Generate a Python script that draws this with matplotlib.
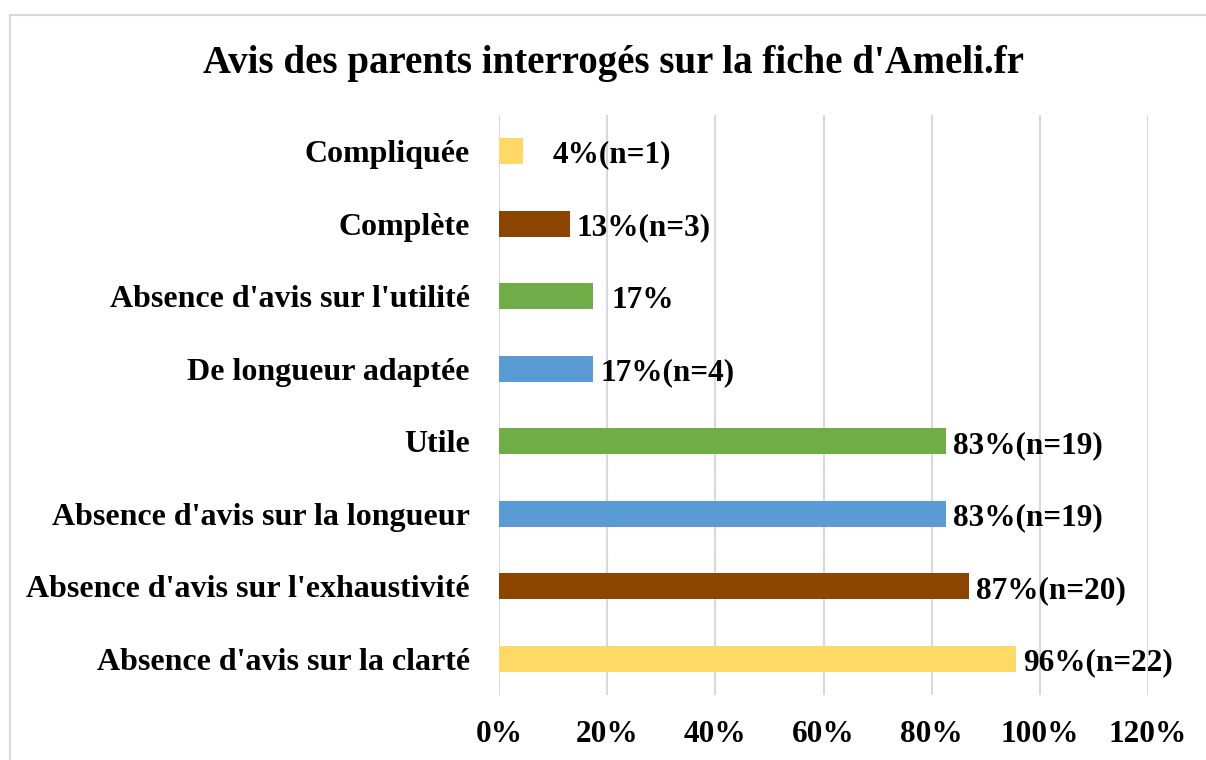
import matplotlib
matplotlib.use("Agg")
import matplotlib.pyplot as plt
from matplotlib.patches import Rectangle
from matplotlib.ticker import FuncFormatter

# ─── DATA ─────────────────────────────────────────────────────────────────────
categories = [
    "Absence d'avis sur la clarté",
    "Absence d'avis sur l'exhaustivité",
    "Absence d'avis sur la longueur",
    "Utile",
    "De longueur adaptée",
    "Absence d'avis sur l'utilité",
    "Complète",
    "Compliquée",
]
values = [0.9565, 0.8696, 0.826, 0.826, 0.1739, 0.1739, 0.1304, 0.0435]
labels = ["96%(n=22)", "87%(n=20)", "83%(n=19)", "83%(n=19)",
          "17%(n=4)", "17%", "13%(n=3)", "4%(n=1)"]
colors = ["#FFD966", "#8B4500", "#5B9BD5", "#70AD47",
          "#5B9BD5", "#70AD47", "#8B4500", "#FFD966"]
title = "Avis des parents interrogés sur la fiche d'Ameli.fr"

FONT = "Liberation Serif"
FS = 22.5

# ─── PLOT ─────────────────────────────────────────────────────────────────────
fig = plt.figure(figsize=(12.06, 7.6), dpi=100)
ax = fig.add_axes([0.4138, 0.0855, 0.9519 - 0.4138, 0.849 - 0.0855])

# light grey chart border (cropped at right / bottom like the source)
fig.patches.append(Rectangle((10 / 1206, -0.1), 1.2, 1.1 - 15 / 760,
                             transform=fig.transFigure, fill=False,
                             edgecolor="#D9D9D9", linewidth=1.5))

y = range(len(categories))
ax.barh(y, values, height=0.36, color=colors, zorder=3)

ax.set_xlim(0, 1.2)
ax.set_ylim(-0.5, len(categories) - 0.5)
ax.set_xticks([0, 0.2, 0.4, 0.6, 0.8, 1.0, 1.2])
ax.xaxis.set_major_formatter(FuncFormatter(lambda v, p: f"{v * 100:.0f}%"))
ax.set_yticks(list(y))
ax.set_yticklabels(categories)
ax.grid(True, axis="x", color="#D9D9D9", linewidth=1.5, zorder=0)
ax.grid(False, axis="y")
for s in ax.spines.values():
    s.set_visible(False)
ax.tick_params(axis="both", length=0)
ax.tick_params(axis="x", pad=18)
ax.tick_params(axis="y", pad=21)
for t in ax.get_xticklabels():
    t.set_fontfamily(FONT)
    t.set_fontweight("bold")
    t.set_fontsize(FS)
for t in ax.get_yticklabels():
    t.set_fontfamily(FONT)
    t.set_fontweight("bold")
    t.set_fontsize(23)

# data labels — two of them were nudged further right in the original
extra = {5: 8, 7: 17}
for i, (v, lab) in enumerate(zip(values, labels)):
    ax.annotate(lab, (v, i), xytext=(5 + extra.get(i, 0), -3),
                textcoords="offset points", va="center", ha="left",
                fontfamily=FONT, fontweight="bold", fontsize=FS)

fig.text(0.509, 0.917, title, ha="center", va="center",
         fontfamily=FONT, fontweight="bold", fontsize=28)

fig.savefig("out.png", dpi=100)
